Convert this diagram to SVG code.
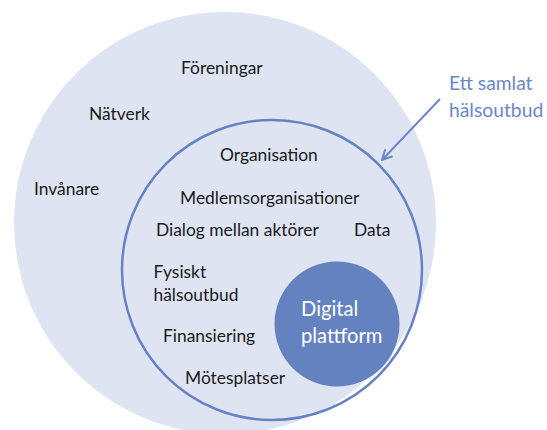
<svg xmlns="http://www.w3.org/2000/svg" width="547" height="430" viewBox="0 0 547 430">
  <defs>
    <style>
      .lbl { font-family: "Lato", "Open Sans", "Liberation Sans", sans-serif; font-size: 17.4px; fill: #1a1a1a; }
      .white { font-family: "Lato", "Open Sans", "Liberation Sans", sans-serif; font-size: 20.2px; fill: #ffffff; }
      .blue { font-family: "Lato", "Open Sans", "Liberation Sans", sans-serif; font-size: 19.3px; fill: #6a87c6; }
    </style>
    <marker id="arrowhead" viewBox="0 0 12 12" refX="11" refY="6" markerWidth="12" markerHeight="12" markerUnits="userSpaceOnUse" orient="auto">
      <path d="M1,1 L11,6 L1,11" fill="none" stroke="#6a87c6" stroke-width="2"/>
    </marker>
  </defs>
  <rect width="547" height="430" fill="#ffffff"/>

  <!-- outer community circle -->
  <g id="community">
    <circle cx="225" cy="223" r="211" fill="#dfe4f3"/>
    <text class="lbl" x="181" y="74">Föreningar</text>
    <text class="lbl" x="89" y="120">Nätverk</text>
    <text class="lbl" x="34" y="195">Invånare</text>
  </g>

  <!-- organisation circle -->
  <g id="organisation">
    <circle cx="272" cy="270" r="150" fill="none" stroke="#6582c4" stroke-width="2.5"/>
    <text class="lbl" x="220" y="161">Organisation</text>
    <text class="lbl" x="180" y="204">Medlemsorganisationer</text>
    <text class="lbl" x="156" y="236">Dialog mellan aktörer</text>
    <text class="lbl" x="354" y="236">Data</text>
    <text class="lbl" x="153.5" y="278">Fysiskt</text>
    <text class="lbl" x="153.5" y="300.5">hälsoutbud</text>
    <text class="lbl" x="163" y="342">Finansiering</text>
    <text class="lbl" x="185" y="384">Mötesplatser</text>
  </g>

  <!-- digital platform -->
  <g id="digital-platform">
    <circle cx="337" cy="324" r="62.5" fill="#6582c0"/>
    <text class="white" x="301" y="316">Digital</text>
    <text class="white" x="301" y="343">plattform</text>
  </g>

  <!-- callout label -->
  <g id="callout">
    <text class="blue" x="449" y="90">Ett samlat</text>
    <text class="blue" x="449" y="117">hälsoutbud</text>
  </g>

  <g id="connectors">
    <line x1="440" y1="99" x2="382" y2="160" stroke="#6a87c6" stroke-width="2" marker-end="url(#arrowhead)"/>
  </g>
</svg>
